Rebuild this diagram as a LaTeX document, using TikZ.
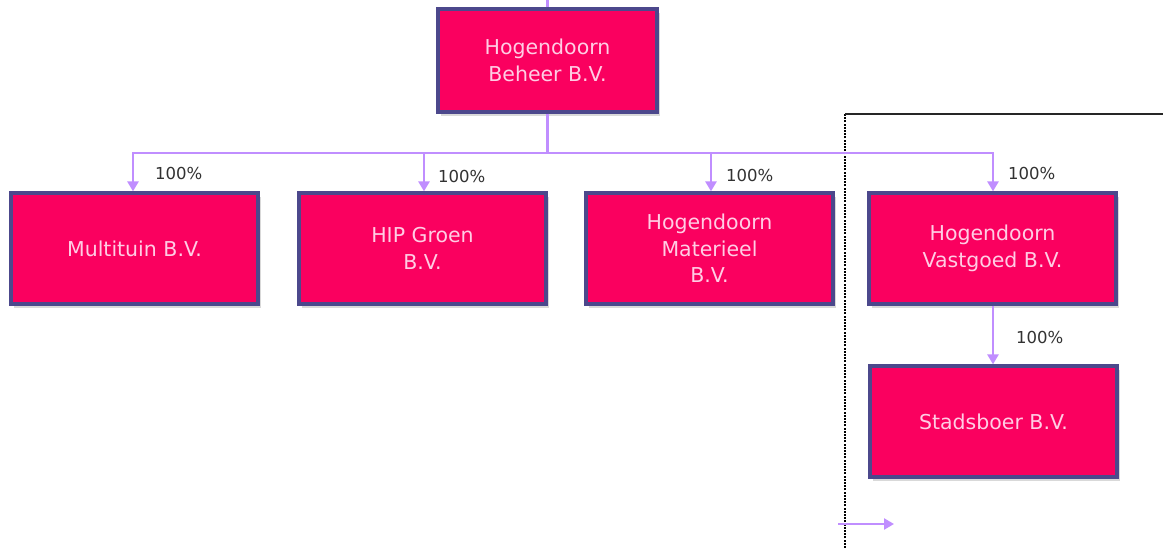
\documentclass[tikz,border=0pt]{standalone}
\usepackage{fontspec}
\setmainfont{DejaVu Sans}
\usetikzlibrary{shadows,arrows.meta}
\definecolor{boxfill}{RGB}{250,0,95}
\definecolor{boxline}{RGB}{76,72,140}
\definecolor{boxtext}{RGB}{255,205,228}
\definecolor{conn}{RGB}{192,142,255}
\definecolor{lbl}{RGB}{50,50,50}
\tikzset{
  entity/.style={draw=boxline, line width=3.2pt, fill=boxfill, text=boxtext,
    minimum width=247pt, minimum height=111pt, inner sep=0pt, align=center,
    font=\fontsize{20.5}{26.5}\selectfont,
    drop shadow={shadow xshift=3pt, shadow yshift=-4pt, opacity=0.3, fill=black!50}},
  conline/.style={draw=conn, line width=2.6pt},
  conarrow/.style={conline, -{Triangle[length=10pt,width=11pt]}},
  pct/.style={text=lbl, font=\fontsize{16.5}{20}\selectfont, inner sep=0pt},
}
\begin{document}
\begin{tikzpicture}[x=1pt,y=-1pt]
\useasboundingbox (0,0) rectangle (1163,548);
% dashed frame
\coordinate (fa) at (845,548);
\coordinate (fb) at (845,114);
\coordinate (fc) at (1163,114);
\draw[black, line width=2pt, dash pattern=on 2pt off 1.2pt] (fa) -- (fb);
\draw[black!85, line width=2pt] (fb) -- (fc);

\node[entity, minimum width=219pt, minimum height=103pt] (top) at (547.5,60.5) {Hogendoorn\\Beheer B.V.};
\node[entity] (c1) at (134.5,248.5) {Multituin B.V.};
\node[entity] (c2) at (422.5,248.5) {HIP Groen\\B.V.};
\node[entity] (c3) at (709.5,248.5) {Hogendoorn\\Materieel\\B.V.};
\node[entity] (c4) at (992.5,248.5) {Hogendoorn\\Vastgoed B.V.};
\node[entity] (c5) at (993.5,421.5) {Stadsboer B.V.};

\coordinate (topend) at (547.5,0);
\coordinate (bus) at (547.5,153);
\draw[conline] (top.north) -- (topend);
\draw[conline] (top.south) -- (bus);
\draw[conarrow] (bus) -| ([xshift=-1.5pt]c1.north);
\draw[conarrow] (bus) -| ([xshift=1.5pt]c2.north);
\draw[conarrow] (bus) -| ([xshift=1.5pt]c3.north);
\draw[conarrow] (bus) -| ([xshift=0.5pt]c4.north);
\draw[conarrow] ([xshift=0.5pt]c4.south) -- ([xshift=-0.5pt]c5.north);

\node[pct, anchor=west] (p1) at (155,173) {100\%};
\node[pct, anchor=west] (p2) at (438,176) {100\%};
\node[pct, anchor=west] (p3) at (726,175) {100\%};
\node[pct, anchor=west] (p4) at (1008,173) {100\%};
\node[pct, anchor=west] (p5) at (1016,337) {100\%};

\coordinate (sa) at (838,524);
\coordinate (sb) at (894,524);
\draw[conarrow] (sa) -- (sb);
\end{tikzpicture}
\end{document}
